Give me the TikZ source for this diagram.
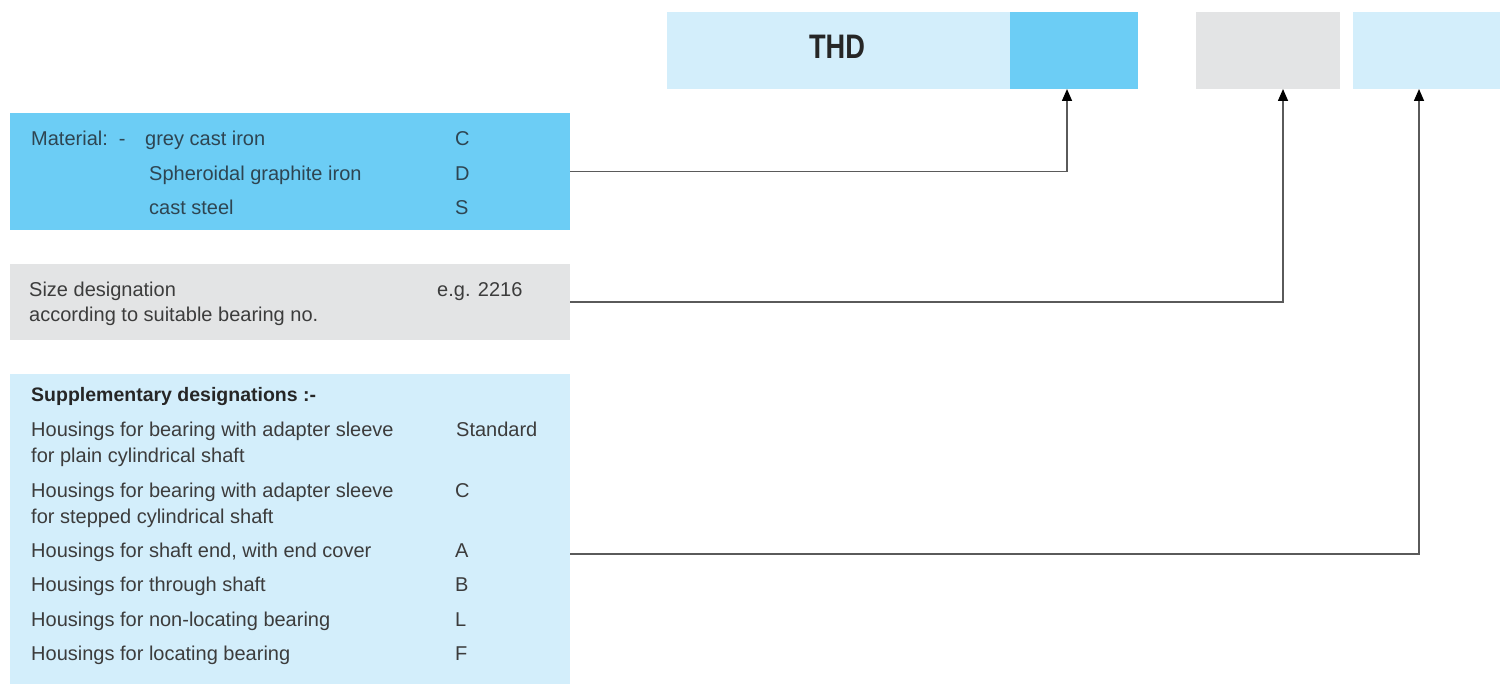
\documentclass[tikz,border=0pt]{standalone}
\usepackage{fontspec}
\setmainfont{Liberation Sans}
\newfontfamily\thdfont[FakeStretch=0.8]{Liberation Sans}
\usetikzlibrary{arrows.meta}
\definecolor{darkblue}{HTML}{6CCDF5}
\definecolor{lightblue}{HTML}{D3EEFB}
\definecolor{greybox}{HTML}{E3E4E5}
\definecolor{txt}{HTML}{3C3C3C}
\definecolor{mattxt}{HTML}{2E4552}
\definecolor{linegrey}{HTML}{5A5A5A}
\tikzset{
  box/.style={rectangle, inner sep=0pt, outer sep=0pt, draw=none},
  lbl/.style={anchor=base west, inner sep=0pt, font=\fontsize{20}{22}\selectfont, text=txt},
  mlbl/.style={lbl, text=mattxt},
  conn/.style={draw=linegrey, line width=1.5pt, -{Triangle[length=12pt,width=10pt,black]}}
}
\begin{document}
\begin{tikzpicture}[x=1pt,y=-1pt]
\useasboundingbox (0,0) rectangle (1501,684);
\fill[white] (0,0) rectangle (1501,684);
% top code bar
\node[box, fill=lightblue, minimum width=343pt, minimum height=77pt] (thd) at (838.5,50.5) {};
\node[box, fill=darkblue, minimum width=128pt, minimum height=77pt] (code1) at (1074,50.5) {};
\node[box, fill=greybox, minimum width=144pt, minimum height=77pt] (code2) at (1268,50.5) {};
\node[box, fill=lightblue, minimum width=147pt, minimum height=77pt] (code3) at (1426.5,50.5) {};
\node[inner sep=0pt, text=black!85, font=\thdfont\bfseries\fontsize{34}{40}\selectfont] (thdtxt) at (837,47) {THD};
% left boxes
\node[box, fill=darkblue, minimum width=560pt, minimum height=117pt] (mat) at (290,171.5) {};
\node[box, fill=greybox, minimum width=560pt, minimum height=76pt] (size) at (290,302) {};
\node[box, fill=lightblue, minimum width=560pt, minimum height=310pt] (supp) at (290,529) {};
% material texts
\node[mlbl] (m0) at (31,146) {Material:\ \ -};
\node[mlbl] (m1) at (145,146) {grey cast iron};
\node[mlbl] (m2) at (149,181) {Spheroidal graphite iron};
\node[mlbl] (m3) at (149,215) {cast steel};
\node[mlbl] (mc1) at (455,146) {C};
\node[mlbl] (mc2) at (455,181) {D};
\node[mlbl] (mc3) at (455,215) {S};
% size texts
\node[lbl] (s1) at (29,297) {Size designation};
\node[lbl] (s2) at (29,322) {according to suitable bearing no.};
\node[lbl] (s3) at (437,297) {e.g. 2216};
% supplementary texts
\node[lbl, font=\bfseries\fontsize{19.5}{22}\selectfont, text=black!85] (h0) at (31,401) {Supplementary designations :-};
\node[lbl] (h1) at (31,436) {Housings for bearing with adapter sleeve};
\node[lbl] (h1b) at (31,462) {for plain cylindrical shaft};
\node[lbl] (h2) at (31,497) {Housings for bearing with adapter sleeve};
\node[lbl] (h2b) at (31,523) {for stepped cylindrical shaft};
\node[lbl] (h3) at (31,557) {Housings for shaft end, with end cover};
\node[lbl] (h4) at (31,591) {Housings for through shaft};
\node[lbl] (h5) at (31,626) {Housings for non-locating bearing};
\node[lbl] (h6) at (31,660) {Housings for locating bearing};
\node[lbl] (c1) at (456,436) {Standard};
\node[lbl] (c2) at (455,497) {C};
\node[lbl] (c3) at (455,557) {A};
\node[lbl] (c4) at (455,591) {B};
\node[lbl] (c5) at (455,626) {L};
\node[lbl] (c6) at (455,660) {F};
% connector anchors
\coordinate (t1) at (1067,89);
\coordinate (t2) at (1283,89);
\coordinate (t3) at (1419,89);
\coordinate (a3) at (570,554);
\draw[conn] (mat.east) -| (t1);
\draw[conn] (size.east) -| (t2);
\draw[conn] (a3) -| (t3);
\end{tikzpicture}
\end{document}
